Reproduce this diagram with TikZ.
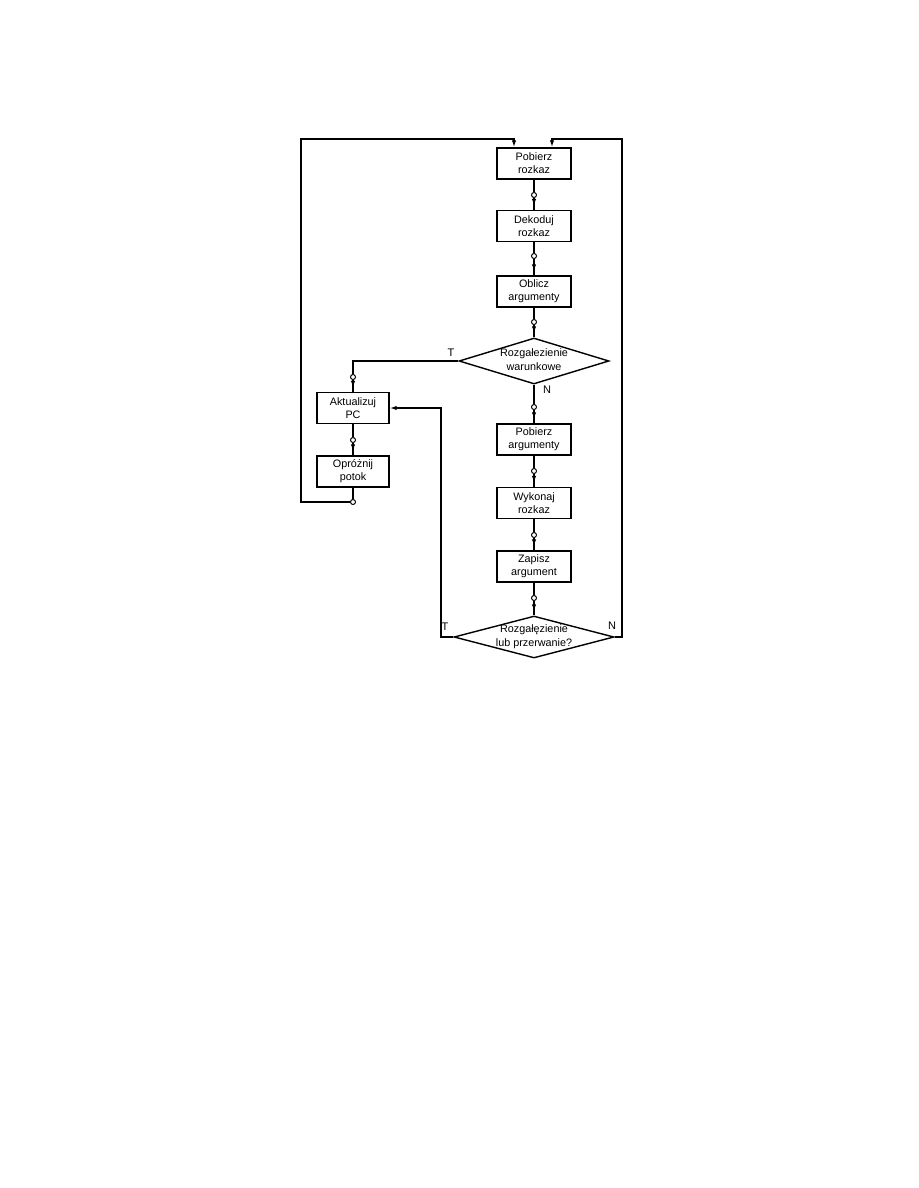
\documentclass[tikz,border=0pt]{standalone}
\usepackage{fontspec}
\setmainfont{Liberation Sans}
\usetikzlibrary{shapes.geometric,arrows.meta}
\begin{document}
\begin{tikzpicture}[x=1pt,y=-1pt,line width=1.4pt,
  box/.style={draw,minimum width=74pt,minimum height=31pt,align=center,inner sep=1pt,
    font=\fontsize{10.8}{13}\selectfont},
  lbox/.style={box,minimum width=72pt},
  dia/.style={draw,diamond,inner sep=0pt},
  dtext/.style={align=center,inner sep=0pt,font=\fontsize{10.8}{14}\selectfont},
  circ/.style={circle,draw,fill=white,inner sep=0pt,minimum size=5pt,line width=1pt},
  arr/.style={-{Latex[length=7pt,width=4.5pt]}},
  sarr/.style={-{Latex[length=7pt,width=4.5pt]},shorten >=4pt},
  lab/.style={font=\fontsize{11}{12}\selectfont,inner sep=0pt}]
\useasboundingbox (0,0) rectangle (918,1188);
% main column
\node[box] (p1) at (534,163.5) {Pobierz\\rozkaz};
\node[box] (p2) at (534,226) {Dekoduj\\rozkaz};
\node[box] (p3) at (534,291.5) {Oblicz\\argumenty};
\node[dia,minimum width=150pt,minimum height=46pt] (d1) at (534,361) {};
\node[dtext] (d1t) at (534,360) {Rozgałezienie\\warunkowe};
\node[box] (p4) at (534,439.5) {Pobierz\\argumenty};
\node[box] (p5) at (534,503) {Wykonaj\\rozkaz};
\node[box] (p6) at (534,566.5) {Zapisz\\argument};
\node[dia,minimum width=160pt,minimum height=42pt] (d2) at (534,637) {};
\node[dtext] (d2t) at (534,637) {Rozgałęzienie\\lub przerwanie?};
% left column
\node[lbox] (a1) at (353,408) {Aktualizuj\\PC};
\node[lbox] (o1) at (353,471.5) {Opróżnij\\potok};
% circles
\node[circ] (c1) at (534,195) {};
\node[circ] (c2) at (534,256) {};
\node[circ] (c3) at (534,322) {};
\node[circ] (c4) at (534,407) {};
\node[circ] (c5) at (534,471) {};
\node[circ] (c6) at (534,535) {};
\node[circ] (c7) at (534,598) {};
\node[circ] (l1) at (353,377) {};
\node[circ] (l2) at (353,440) {};
% corner coordinates
\coordinate (lc) at (301,139);
\coordinate (rc) at (622,139);
\coordinate (tc) at (441,408);
% main flow
\foreach \a/\c/\b in {p1/c1/p2,p2/c2/p3,p3/c3/d1,d1/c4/p4,p4/c5/p5,p5/c6/p6,p6/c7/d2,a1/l2/o1}{
  \draw (\a) -- (\c) -- (\b);
  \draw[sarr] (\c) -- (\b);
}
% branch T of d1
\draw (d1.west) -| (l1) -- (a1);
\draw[sarr] (l1) -- (a1);
% after flush: loop back
\node[circ] (l3) at (353,502) {};
\draw (o1) -- (l3);
\draw[arr] (l3.west) -| (lc) -| ([xshift=-20pt]p1.north);
% N of d2: loop back
\draw[arr] (d2.east) -| (rc) -| ([xshift=18pt]p1.north);
% T of d2: to Aktualizuj PC
\draw[arr] (d2.west) -| (tc) -- (a1.east);
% labels
\node[lab] (t1) at (451,353) {T};
\node[lab] (n1) at (547,390) {N};
\node[lab] (t2) at (445,627) {T};
\node[lab] (n2) at (612,626) {N};
\end{tikzpicture}
\end{document}
